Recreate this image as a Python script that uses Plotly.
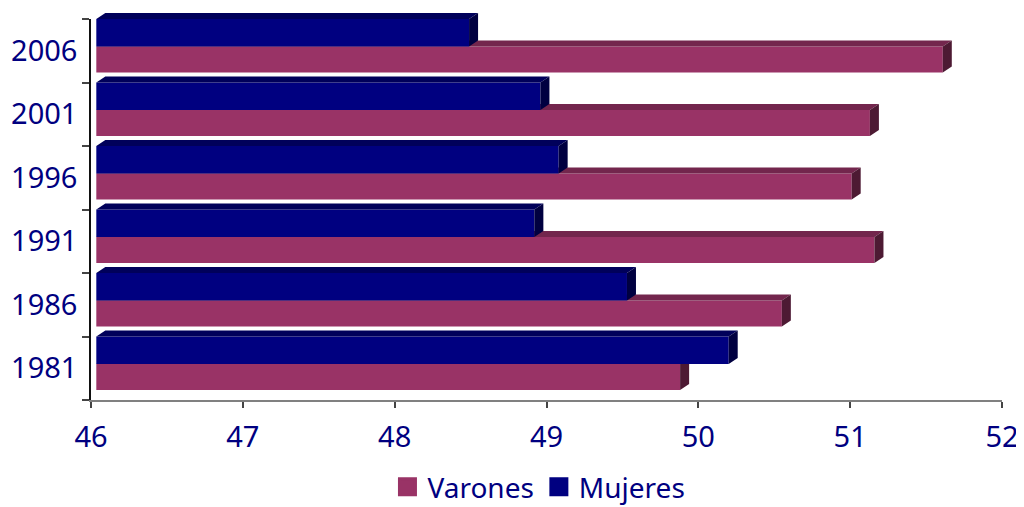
import plotly.graph_objects as go

years = ["1981", "1986", "1991", "1996", "2001", "2006"]
varones = [49.88, 50.55, 51.16, 51.01, 51.13, 51.61]
mujeres = [50.20, 49.53, 48.92, 49.08, 48.96, 48.49]
x_ticks = [46, 47, 48, 49, 50, 51, 52]

NAVY, NAVY_TOP, NAVY_SIDE = "#000080", "#00005A", "#000040"
MAROON, MAROON_TOP, MAROON_SIDE = "#993366", "#73264D", "#4D1A33"
FONT = "'Comic Sans MS', 'Noto Sans', sans-serif"

# layout geometry in data units
BASE = 46.035
DX = 9 / 151.8
DY = 6 / 63.5
TOP_GAP = 0.5
NAVY_H = 27.5 / 63.5
MAROON_H = 26 / 63.5

pos = list(range(len(years)))


def faces(values, top_of, height):
    top_x, top_y, side_x, side_y = [], [], [], []
    for y, v in zip(pos, values):
        yt = top_of(y)
        yb = yt - height
        top_x += [BASE, BASE + DX, v + DX, v, None]
        top_y += [yt, yt + DY, yt + DY, yt, None]
        side_x += [v, v + DX, v + DX, v, None]
        side_y += [yt, yt + DY, yb + DY, yb, None]
    return top_x, top_y, side_x, side_y


def poly(x, y, color, xa, ya):
    return go.Scatter(x=x, y=y, mode="lines", fill="toself", fillcolor=color,
                      line=dict(width=0, color=color), hoverinfo="skip",
                      showlegend=False, cliponaxis=False, xaxis=xa, yaxis=ya)


fig = go.Figure()

nav_top = lambda y: y + TOP_GAP
mar_top = lambda y: y + TOP_GAP - NAVY_H

fig.add_trace(go.Bar(y=pos, x=[v - BASE for v in varones], base=BASE, orientation="h",
                     width=MAROON_H, offset=TOP_GAP - NAVY_H - MAROON_H,
                     marker=dict(color=MAROON, line=dict(width=0)), showlegend=False,
                     name="Varones", cliponaxis=False))
tx, ty, sx, sy = faces(varones, mar_top, MAROON_H)
fig.add_trace(poly(tx, ty, MAROON_TOP, "x", "y"))
fig.add_trace(poly(sx, sy, MAROON_SIDE, "x", "y"))

fig.add_trace(go.Bar(y=pos, x=[v - BASE for v in mujeres], base=BASE, orientation="h",
                     width=NAVY_H, offset=TOP_GAP - NAVY_H,
                     marker=dict(color=NAVY, line=dict(width=0)), showlegend=False,
                     name="Mujeres", cliponaxis=False, xaxis="x2", yaxis="y2"))
tx, ty, sx, sy = faces(mujeres, nav_top, NAVY_H)
fig.add_trace(poly(tx, ty, NAVY_TOP, "x2", "y2"))
fig.add_trace(poly(sx, sy, NAVY_SIDE, "x2", "y2"))

for name, color in (("Varones", MAROON), ("Mujeres", NAVY)):
    fig.add_trace(go.Scatter(x=[None], y=[None], mode="markers", name=name,
                             marker=dict(symbol="square", size=16, color=color,
                                         line=dict(width=3, color=color))))

boundaries = [p - 0.5 for p in pos] + [pos[-1] + 0.5]

fig.update_layout(
    width=1016, height=499,
    margin=dict(l=83, r=22, t=5, b=107, pad=0),
    paper_bgcolor="white", plot_bgcolor="rgba(0,0,0,0)",
    barmode="overlay",
    font=dict(family=FONT, color=NAVY, size=29),
    xaxis=dict(range=[46, 52], tickvals=x_ticks, ticks="outside", ticklen=6, tickwidth=1.5,
               tickcolor="#444444", showgrid=False, zeroline=False, showline=True,
               ticklabelstandoff=4, anchor="y", automargin=False,
               linecolor="#808080", linewidth=2, tickfont=dict(size=29, color=NAVY, family=FONT)),
    yaxis=dict(range=[-0.5, 5.5], domain=[0, 381 / 387], tickvals=pos, ticktext=years, ticks="",
               showgrid=False, zeroline=False, showline=True, linecolor="#111111", linewidth=1.5,
               ticklabelstandoff=6, automargin=False, tickfont=dict(size=29, color=NAVY, family=FONT),
               minor=dict(tickvals=boundaries, ticks="outside", ticklen=7, tickwidth=1.5,
                          tickcolor="#444444", showgrid=False)),
    xaxis2=dict(range=[46, 52], anchor="y2", visible=False, automargin=False),
    yaxis2=dict(range=[-0.5, 5.5 + DY], domain=[0, 1], anchor="x2", visible=False, automargin=False),
    legend=dict(orientation="h", xref="container", yref="container",
                x=0.5226, xanchor="center", y=0.04, yanchor="middle",
                font=dict(size=28, color=NAVY, family=FONT), bgcolor="rgba(0,0,0,0)"),
)

fig.write_html("out.html")
